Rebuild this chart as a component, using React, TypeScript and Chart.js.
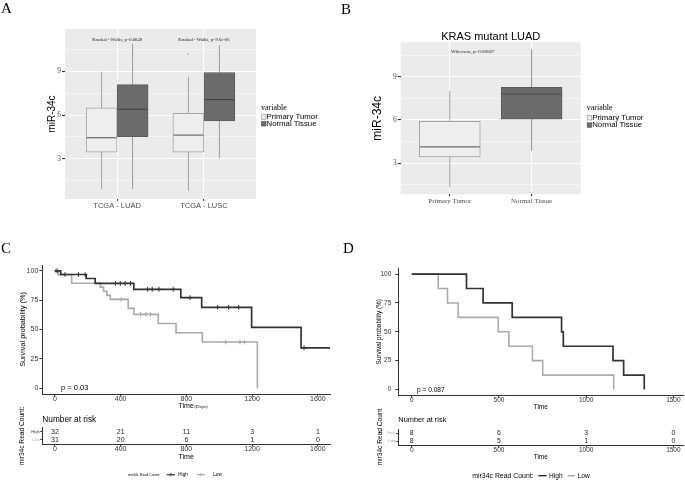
import React, { useEffect, useRef } from 'react';
import { Chart, registerables } from 'chart.js';
Chart.register(...registerables);

// ================= DATA =================
// Panel A: boxplots by cohort
const groupsA = ['TCGA - LUAD', 'TCGA - LUSC'];
const primaryA_min = [0.93, 0.8];
const primaryA_q1 = [3.46, 3.46];
const primaryA_med = [4.45, 4.63];
const primaryA_q3 = [6.5, 6.13];
const primaryA_max = [8.98, 8.63];
const primaryA_outliers = [[], [10.2]];
const normalA_min = [0.93, 3.02];
const normalA_q1 = [4.52, 5.6];
const normalA_med = [6.4, 7.07];
const normalA_q3 = [8.1, 8.93];
const normalA_max = [10.9, 10.8];
const testLabelsA = ['Kruskal - Wallis, p=0.0049', 'Kruskal - Wallis, p=9.6e-06'];

// Panel B: KRAS mutant LUAD
const groupsB = ['Primary Tumor', 'Normal Tissue'];
const boxB_min = [1.34, 3.87];
const boxB_q1 = [3.44, 6.05];
const boxB_med = [4.13, 7.8];
const boxB_q3 = [5.91, 8.26];
const boxB_max = [8.0, 10.9];
const testLabelB = 'Wilcoxon, p=0.00067';
const titleB = 'KRAS mutant LUAD';

const boxMajorTicks = [3, 6, 9];
const boxMinorTicks = [1.5, 4.5, 7.5, 10.5];
const legendTitle = 'variable';
const legendLabels = ['Primary Tumor', 'Normal Tissue'];

// Panel C: Kaplan-Meier (days)
const highC_t = [0, 35, 190, 245, 480, 766, 893, 1197, 1498, 1674];
const highC_s = [100, 96.9, 93.5, 89.3, 84.3, 77.1, 68.9, 51.8, 34.4, 34.4];
const highC_censor = [14, 61, 143, 184, 368, 398, 427, 460, 564, 592, 633, 720, 822, 990, 1057, 1118, 1516];
const lowC_t = [0, 20, 102, 276, 296, 316, 337, 446, 481, 629, 737, 897, 1232];
const lowC_s = [100, 96.8, 89.5, 86.1, 82.6, 79.1, 75.7, 68.0, 62.9, 55.1, 47.2, 39.3, 0];
const lowC_censor = [6, 403, 521, 554, 582, 1039, 1126, 1153];
const timeTicksC = [0, 400, 800, 1200, 1600];
const riskHighC = [32, 21, 11, 3, 1];
const riskLowC = [31, 20, 6, 1, 0];
const pValueC = 'p = 0.03';

// Panel D: Kaplan-Meier
const highD_t = [0, 314, 409, 576, 859, 869, 1154, 1215, 1333];
const highD_s = [100, 87.5, 75, 62.5, 50, 37.5, 25, 12.5, 0];
const lowD_t = [0, 152, 205, 266, 496, 557, 692, 751, 1158];
const lowD_s = [100, 87.5, 75, 62.5, 50, 37.5, 25, 12.5, 0];
const timeTicksD = [0, 500, 1000, 1500];
const riskHighD = [8, 6, 3, 0];
const riskLowD = [8, 5, 1, 0];
const pValueD = 'p = 0.087';

const survTicks = [0, 25, 50, 75, 100];
const riskRows = ['High', 'Low'];

// ================= STYLE HELPERS =================
const SANS = "'Liberation Sans', Arial, sans-serif";
const SERIF = "'Liberation Serif', 'Times New Roman', serif";
const HIGH_COL = '#333333';
const LOW_COL = '#aaaaaa';
const PANEL_BG = '#ebebeb';
const PRIMARY_FILL = '#eeeeee';
const PRIMARY_STROKE = '#a3a3a3';
const NORMAL_FILL = '#6b6b6b';
const NORMAL_STROKE = '#5c5c5c';

const fixedTicks = (values: number[]) => (scale: any) => {
  scale.ticks = values.map((v) => ({ value: v }));
};
const fixW = (w: number) => (scale: any) => { scale.width = w; };
const fixH = (h: number) => (scale: any) => { scale.height = h; };
const plain = (v: any) => String(v);

function survAt(ts: number[], ss: number[], t: number) {
  let s = ss[0];
  for (let i = 0; i < ts.length; i++) if (ts[i] <= t) s = ss[i];
  return s;
}

function pick(v: any, i: number) { return Array.isArray(v) ? v[i] : v; }

// ================= PLUGINS =================
const panelBg = {
  id: 'panelBg',
  beforeDraw(chart: any) {
    const { ctx, chartArea: a } = chart;
    ctx.save();
    ctx.fillStyle = PANEL_BG;
    ctx.fillRect(a.left, a.top, a.right - a.left, a.bottom - a.top);
    ctx.restore();
  },
};

const boxWhisker = {
  id: 'boxWhisker',
  beforeDatasetsDraw(chart: any) {
    const { ctx } = chart;
    const y = chart.scales.y;
    chart.data.datasets.forEach((ds: any, di: number) => {
      const meta = chart.getDatasetMeta(di);
      meta.data.forEach((el: any, i: number) => {
        const { x } = el.getProps(['x'], true);
        ctx.save();
        ctx.strokeStyle = pick(ds.whiskerColor, i);
        ctx.lineWidth = 1;
        ctx.beginPath();
        ctx.moveTo(x, y.getPixelForValue(ds.whiskerLow[i]));
        ctx.lineTo(x, y.getPixelForValue(ds.whiskerHigh[i]));
        ctx.stroke();
        ctx.restore();
      });
    });
  },
  afterDatasetsDraw(chart: any) {
    const { ctx } = chart;
    const y = chart.scales.y;
    chart.data.datasets.forEach((ds: any, di: number) => {
      const meta = chart.getDatasetMeta(di);
      meta.data.forEach((el: any, i: number) => {
        const { x, width } = el.getProps(['x', 'width'], true);
        const py = y.getPixelForValue(ds.median[i]);
        ctx.save();
        ctx.strokeStyle = pick(ds.medianColor, i);
        ctx.lineWidth = 1.2;
        ctx.beginPath();
        ctx.moveTo(x - width / 2 + 0.5, py);
        ctx.lineTo(x + width / 2 - 0.5, py);
        ctx.stroke();
        const outs = (ds.outliers && ds.outliers[i]) || [];
        ctx.fillStyle = pick(ds.whiskerColor, i);
        outs.forEach((v: number) => {
          ctx.beginPath();
          ctx.arc(x, y.getPixelForValue(v), 0.8, 0, Math.PI * 2);
          ctx.fill();
        });
        ctx.restore();
      });
    });
  },
};

function overlay(draw: (ctx: CanvasRenderingContext2D, chart: any) => void) {
  return {
    id: 'overlay',
    afterDraw(chart: any) {
      const ctx = chart.ctx;
      ctx.save();
      draw(ctx, chart);
      ctx.restore();
    },
  };
}

function drawText(ctx: CanvasRenderingContext2D, text: string, x: number, y: number, font: string, color: string, align: CanvasTextAlign = 'left') {
  ctx.font = font;
  ctx.fillStyle = color;
  ctx.textAlign = align;
  ctx.textBaseline = 'middle';
  ctx.fillText(text, x, y);
}

function drawPanelLetter(ctx: CanvasRenderingContext2D, letter: string, x: number, y: number) {
  ctx.font = `15px ${SERIF}`;
  ctx.fillStyle = '#000';
  ctx.textAlign = 'left';
  ctx.textBaseline = 'alphabetic';
  ctx.fillText(letter, x, y);
}

function drawBoxLegend(ctx: CanvasRenderingContext2D, x: number, yTitle: number, yItems: number[]) {
  drawText(ctx, legendTitle, x, yTitle, `8px ${SERIF}`, '#000');
  const fills = [PRIMARY_FILL, NORMAL_FILL];
  const strokes = ['#9a9a9a', NORMAL_STROKE];
  yItems.forEach((yy, i) => {
    ctx.fillStyle = fills[i];
    ctx.fillRect(x + 0.5, yy - 2.5, 4.5, 4.5);
    ctx.strokeStyle = strokes[i];
    ctx.lineWidth = 0.7;
    ctx.strokeRect(x + 0.5, yy - 2.5, 4.5, 4.5);
    drawText(ctx, legendLabels[i], x + 5.5, yy, `7.8px ${SANS}`, '#000');
  });
}

function drawKmLegend(ctx: CanvasRenderingContext2D, y: number, titleX: number, titleSize: number, labelSize: number,
  keys: { x1: number; x2: number; lx: number }[], cross: boolean, lineW: number) {
  drawText(ctx, 'mir34c Read Count:', titleX, y, `${titleSize}px ${SANS}`, '#000');
  const cols = [HIGH_COL, LOW_COL];
  keys.forEach((k, i) => {
    ctx.strokeStyle = cols[i];
    ctx.lineWidth = lineW;
    ctx.beginPath();
    ctx.moveTo(k.x1, y);
    ctx.lineTo(k.x2, y);
    ctx.stroke();
    if (cross) {
      const cx = (k.x1 + k.x2) / 2;
      ctx.lineWidth = 0.8;
      ctx.beginPath();
      ctx.moveTo(cx, y - 1.8);
      ctx.lineTo(cx, y + 1.8);
      ctx.stroke();
    }
    drawText(ctx, riskRows[i], k.lx, y, `${labelSize}px ${SANS}`, '#000');
  });
}

// ================= CONFIG BUILDERS =================
function boxYScale(min: number, max: number, yW: number, titleSize: number) {
  return {
    type: 'linear',
    min,
    max,
    afterBuildTicks: fixedTicks([...boxMinorTicks, ...boxMajorTicks].sort((a, b) => a - b)),
    afterFit: fixW(yW),
    grid: {
      color: '#ffffff',
      lineWidth: (c: any) => (boxMajorTicks.includes(c.tick?.value) ? 1.1 : 0.5),
      tickColor: (c: any) => (boxMajorTicks.includes(c.tick?.value) ? '#333333' : 'rgba(0,0,0,0)'),
      tickLength: 3,
      drawTicks: true,
    },
    border: { display: false },
    ticks: {
      autoSkip: false,
      font: { family: SERIF, size: 7.5 },
      color: '#4d4d4d',
      padding: 1,
      callback: (v: any) => (boxMajorTicks.includes(v) ? String(v) : ''),
    },
    title: {
      display: true,
      text: 'miR-34c',
      font: { family: SANS, size: titleSize, lineHeight: 1.2 },
      color: '#000',
      padding: { top: 0, bottom: 0 },
    },
  };
}

function boxXScale(labels: string[], h: number, font: string, size: number) {
  return {
    type: 'linear',
    min: 0.4,
    max: 2.6,
    offset: false,
    afterBuildTicks: fixedTicks(labels.map((_, i) => i + 1)),
    afterFit: fixH(h),
    grid: { color: '#ffffff', lineWidth: 1.1, tickColor: '#333333', tickLength: 2, offset: false },
    border: { display: false },
    ticks: {
      autoSkip: false,
      maxRotation: 0,
      font: { family: font, size, lineHeight: 1 },
      color: '#4d4d4d',
      padding: 1,
      callback: (v: any) => labels[Math.round(v) - 1] ?? '',
    },
  };
}

function makeA() {
  return {
    type: 'bar',
    data: {
      datasets: [
        {
          label: legendLabels[0],
          data: groupsA.map((_, i) => ({ x: i + 1, y: [primaryA_q1[i], primaryA_q3[i]] })),
          backgroundColor: PRIMARY_FILL,
          borderColor: PRIMARY_STROKE,
          borderWidth: 1,
          borderSkipped: false,
          barThickness: 31,
          whiskerLow: primaryA_min,
          whiskerHigh: primaryA_max,
          median: primaryA_med,
          outliers: primaryA_outliers,
          whiskerColor: '#a0a0a0',
          medianColor: '#6a6a6a',
        },
        {
          label: legendLabels[1],
          data: groupsA.map((_, i) => ({ x: i + 1, y: [normalA_q1[i], normalA_q3[i]] })),
          backgroundColor: NORMAL_FILL,
          borderColor: NORMAL_STROKE,
          borderWidth: 1,
          borderSkipped: false,
          barThickness: 31,
          whiskerLow: normalA_min,
          whiskerHigh: normalA_max,
          median: normalA_med,
          outliers: [[], []],
          whiskerColor: '#9a9a9a',
          medianColor: '#454545',
        },
      ],
    },
    options: {
      animation: false,
      responsive: false,
      events: [],
      layout: { padding: { left: 46.5, right: 84, top: 29, bottom: 0 } },
      plugins: { legend: { display: false }, tooltip: { enabled: false } },
      scales: {
        x: boxXScale(groupsA, 41, SANS, 7.5),
        y: boxYScale(0.24, 11.92, 18.5, 10),
      },
    },
    plugins: [
      panelBg,
      boxWhisker,
      overlay((ctx, chart) => {
        drawPanelLetter(ctx, 'A', 1, 12.7);
        const xs = chart.scales.x;
        const ys = chart.scales.y;
        testLabelsA.forEach((t, i) => {
          drawText(ctx, t, xs.getPixelForValue(i + 1), ys.getPixelForValue(11.15), `4.6px ${SERIF}`, '#222', 'center');
        });
        drawBoxLegend(ctx, 261, 107.7, [117.3, 124]);
      }),
    ],
  };
}

function makeB() {
  return {
    type: 'bar',
    data: {
      datasets: [
        {
          label: titleB,
          data: groupsB.map((_, i) => ({ x: i + 1, y: [boxB_q1[i], boxB_q3[i]] })),
          backgroundColor: [PRIMARY_FILL, NORMAL_FILL],
          borderColor: [PRIMARY_STROKE, NORMAL_STROKE],
          borderWidth: 1,
          borderSkipped: false,
          barThickness: 61,
          whiskerLow: boxB_min,
          whiskerHigh: boxB_max,
          median: boxB_med,
          outliers: [[], []],
          whiskerColor: ['#a0a0a0', '#8f8f8f'],
          medianColor: ['#6a6a6a', '#4a4a4a'],
        },
      ],
    },
    options: {
      animation: false,
      responsive: false,
      events: [],
      layout: { padding: { left: 30.5, right: 104.3, top: 31.2, bottom: 0 } },
      plugins: {
        legend: { display: false },
        tooltip: { enabled: false },
        title: {
          display: true,
          text: titleB,
          fullSize: false,
          font: { family: SANS, size: 11, weight: 'normal', lineHeight: 1 },
          color: '#000',
          padding: { top: 0, bottom: 0.1 },
        },
      },
      scales: {
        x: boxXScale(groupsB, 45.7, SERIF, 7),
        y: boxYScale(0.85, 11.38, 30.2, 12),
      },
    },
    plugins: [
      panelBg,
      boxWhisker,
      overlay((ctx, chart) => {
        drawPanelLetter(ctx, 'B', 1, 14);
        const xs = chart.scales.x;
        const ys = chart.scales.y;
        drawText(ctx, testLabelB, xs.getPixelForValue(1.28), ys.getPixelForValue(10.73), `5px ${SERIF}`, '#222', 'center');
        drawBoxLegend(ctx, 246.7, 108.3, [118, 125.3]);
      }),
    ],
  };
}

function makeSurv(p: any) {
  const lineDs = (label: string, ts: number[], ss: number[], color: string, w: number) => ({
    type: 'line',
    label,
    data: ts.map((t, i) => ({ x: t, y: ss[i] })),
    stepped: true,
    borderColor: color,
    borderWidth: w,
    pointRadius: 0,
    fill: false,
  });
  const censorDs = (label: string, cs: number[], ts: number[], ss: number[], color: string) => ({
    type: 'line',
    label,
    data: cs.map((t) => ({ x: t, y: survAt(ts, ss, t) })),
    showLine: false,
    pointStyle: 'cross',
    pointRadius: 2.4,
    pointBorderWidth: 1,
    borderColor: color,
    pointBorderColor: color,
  });
  return {
    type: 'line',
    data: {
      datasets: [
        censorDs('High censored', p.highC, p.highT, p.highS, HIGH_COL),
        lineDs('High', p.highT, p.highS, HIGH_COL, 1.7),
        censorDs('Low censored', p.lowC, p.lowT, p.lowS, LOW_COL),
        lineDs('Low', p.lowT, p.lowS, LOW_COL, 1.6),
      ],
    },
    options: {
      animation: false,
      responsive: false,
      events: [],
      layout: { padding: p.pad },
      plugins: { legend: { display: false }, tooltip: { enabled: false } },
      scales: {
        x: {
          type: 'linear',
          min: -77,
          max: p.xMax,
          afterBuildTicks: fixedTicks(p.xTicks),
          afterFit: fixH(p.xH),
          grid: { display: true, drawOnChartArea: false, tickLength: 2.5, tickColor: '#333333' },
          border: { display: true, color: '#333333', width: 1 },
          ticks: { autoSkip: false, maxRotation: 0, font: { family: SANS, size: p.tickSize, lineHeight: 0.7 }, color: '#333', padding: 0, callback: plain },
          title: {
            display: true,
            text: 'Time',
            font: { family: SANS, size: p.xTitleSize, lineHeight: 1.2 },
            color: '#000',
            padding: { top: 0, bottom: p.xTitlePadB },
          },
        },
        y: {
          type: 'linear',
          min: -5,
          max: 105,
          afterBuildTicks: fixedTicks(survTicks),
          afterFit: fixW(p.yW),
          grid: { display: true, drawOnChartArea: false, tickLength: 3, tickColor: '#333333' },
          border: { display: true, color: '#333333', width: 1 },
          ticks: { autoSkip: false, font: { family: SANS, size: p.tickSize }, color: '#333', padding: p.yTickPad, callback: plain },
          title: {
            display: true,
            text: 'Survival probability (%)',
            font: { family: SANS, size: p.yTitleSize, lineHeight: 1.2 },
            color: '#000',
            padding: { top: 0, bottom: 0 },
          },
        },
      },
    },
    plugins: [overlay(p.overlay)],
  };
}

function makeRisk(p: any) {
  return {
    type: 'scatter',
    data: {
      datasets: riskRows.map((row, ri) => ({
        label: row,
        data: p.times.map((t: number) => ({ x: t, y: row })),
        counts: ri === 0 ? p.high : p.low,
        pointRadius: 0,
      })),
    },
    options: {
      animation: false,
      responsive: false,
      events: [],
      layout: { padding: p.pad },
      plugins: {
        legend: { display: false },
        tooltip: { enabled: false },
        title: {
          display: true,
          text: 'Number at risk',
          align: 'start',
          fullSize: false,
          font: { family: SANS, size: p.titleSize, weight: 'normal', lineHeight: 1.2 },
          color: '#000',
          padding: p.titlePad,
        },
      },
      scales: {
        x: {
          type: 'linear',
          min: -77,
          max: p.xMax,
          afterBuildTicks: fixedTicks(p.times),
          afterFit: fixH(p.xH),
          grid: { display: true, drawOnChartArea: false, tickLength: 2.5, tickColor: '#333333' },
          border: { display: true, color: '#333333', width: 1 },
          ticks: { autoSkip: false, maxRotation: 0, font: { family: SANS, size: p.tickSize, lineHeight: 0.7 }, color: '#333', padding: 0, callback: plain },
          title: {
            display: true,
            text: 'Time',
            font: { family: SANS, size: p.tickSize, lineHeight: 1.2 },
            color: '#000',
            padding: { top: 0, bottom: p.xTitlePadB },
          },
        },
        y: {
          type: 'category',
          labels: riskRows,
          offset: true,
          afterFit: fixW(p.yW),
          grid: { display: true, drawOnChartArea: false, tickLength: 2, tickColor: '#333333', offset: false },
          border: { display: true, color: '#333333', width: 1 },
          ticks: { autoSkip: false, font: { family: SANS, size: 4.2 }, color: (c: any) => p.rowColors[c.index], padding: 0.5 },
          title: {
            display: true,
            text: p.yTitle,
            font: { family: SANS, size: 6.6, lineHeight: 1.2 },
            color: '#000',
            padding: { top: 0, bottom: 0 },
          },
        },
      },
    },
    plugins: [
      overlay((ctx, chart) => {
        chart.data.datasets.forEach((ds: any, di: number) => {
          const meta = chart.getDatasetMeta(di);
          meta.data.forEach((el: any, i: number) => {
            drawText(ctx, String(ds.counts[i]), el.x, el.y, `${p.countSize}px ${SANS}`, '#222', 'center');
          });
        });
        p.legend(ctx);
      }),
    ],
  };
}

// ================= COMPONENTS =================
function ChartCanvas({ left, top, width, height, make }: any) {
  const ref = useRef<HTMLCanvasElement>(null);
  useEffect(() => {
    if (!ref.current) return;
    const chart = new Chart(ref.current, make());
    return () => chart.destroy();
  }, []);
  return (
    <canvas
      ref={ref}
      width={width}
      height={height}
      style={{ position: 'absolute', left, top, width, height, display: 'block' }}
    />
  );
}

export default function App() {
  const makeC = () =>
    makeSurv({
      highT: highC_t, highS: highC_s, highC: highC_censor,
      lowT: lowC_t, lowS: lowC_s, lowC: lowC_censor,
      xMax: 1674, xTicks: timeTicksC,
      pad: { left: 18.3, right: 10, top: 25, bottom: 0 },
      xH: 18, yW: 24, tickSize: 7, xTitleSize: 7, xTitlePadB: 1.5, yTitleSize: 7.3, yTickPad: 1,
      overlay: (ctx: CanvasRenderingContext2D) => {
        drawPanelLetter(ctx, 'C', 1, 13.3);
        drawText(ctx, pValueC, 61, 148, `7.5px ${SANS}`, '#000');
        drawText(ctx, '(Days)', 194.5, 167, `4.8px ${SERIF}`, '#000');
      },
    });
  const makeD = () =>
    makeSurv({
      highT: highD_t, highS: highD_s, highC: [],
      lowT: lowD_t, lowS: lowD_s, lowC: [],
      xMax: 1557, xTicks: timeTicksD,
      pad: { left: 35.5, right: 1.7, top: 28.3, bottom: 0 },
      xH: 16.7, yW: 22.8, tickSize: 6.5, xTitleSize: 6.5, xTitlePadB: 0.4, yTitleSize: 6.4, yTickPad: 4,
      overlay: (ctx: CanvasRenderingContext2D) => {
        drawPanelLetter(ctx, 'D', 3, 13.3);
        drawText(ctx, pValueD, 77, 150, `6.6px ${SANS}`, '#000');
      },
    });
  const makeRiskC = () =>
    makeRisk({
      times: timeTicksC, high: riskHighC, low: riskLowC, xMax: 1674,
      pad: { left: 18.5, right: 10, top: 12, bottom: 18 },
      titleSize: 8.3, titlePad: { top: 2.3, bottom: 3.6 },
      xH: 18, yW: 23.8, tickSize: 7, countSize: 7, xTitlePadB: 0.5,
      yTitle: 'mir34c Read Count:', rowColors: ['#333333', '#b5b5b5'],
      legend: (ctx: CanvasRenderingContext2D) =>
        drawKmLegend(ctx, 74.7, 128, 3.6, 4.6,
          [{ x1: 166.7, x2: 175, lx: 178.3 }, { x1: 196.7, x2: 205, lx: 213.3 }], true, 1.2),
    });
  const makeRiskD = () =>
    makeRisk({
      times: timeTicksD, high: riskHighD, low: riskLowD, xMax: 1557,
      pad: { left: 36, right: 1.7, top: 12, bottom: 18 },
      titleSize: 7.4, titlePad: { top: 3.55, bottom: 4.57 },
      xH: 17, yW: 22.3, tickSize: 6.5, countSize: 6.8, xTitlePadB: 0.4,
      yTitle: 'mir34c Read Count', rowColors: ['#b5b5b5', '#999999'],
      legend: (ctx: CanvasRenderingContext2D) =>
        drawKmLegend(ctx, 75.7, 132.3, 6.9, 6.6,
          [{ x1: 198.3, x2: 206.7, lx: 209 }, { x1: 227.7, x2: 235, lx: 237.7 }], false, 1.5),
    });

  return (
    <div style={{ position: 'absolute', left: 0, top: 0, width: 685, height: 480, background: '#ffffff', overflow: 'hidden' }}>
      <ChartCanvas left={0} top={0} width={340} height={240} make={makeA} />
      <ChartCanvas left={340} top={0} width={345} height={240} make={makeB} />
      <ChartCanvas left={0} top={240} width={340} height={172} make={makeC} />
      <ChartCanvas left={340} top={240} width={345} height={172} make={makeD} />
      <ChartCanvas left={0} top={400} width={340} height={80} make={makeRiskC} />
      <ChartCanvas left={340} top={400} width={345} height={80} make={makeRiskD} />
    </div>
  );
}
